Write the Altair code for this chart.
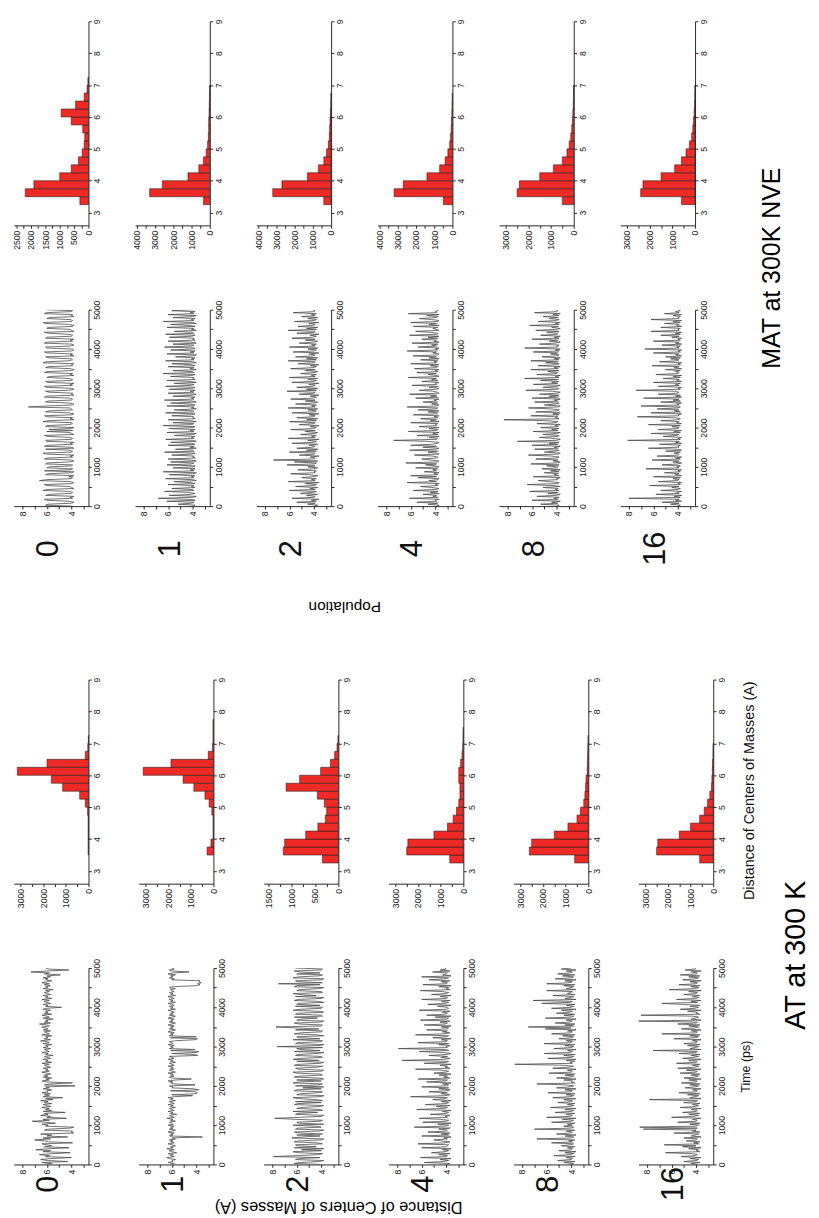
import altair as alt
import pandas as pd

ROWS = ["0", "1", "2", "4", "8", "16"]
TIME = list(range(0, 5001, 25))
BIN_LO = [3.25 + 0.25 * i for i in range(18)]

# ---------------- time series: distance (A) every 25 ps ----------------
AT_TS = {
"0": [6.2,5.6,6.4,4.3,5.9,6.5,5.7,4.0,6.1,5.8,6.6,5.5,4.1,6.3,5.7,6.9,5.9,4.2,6.2,5.6,
      6.0,6.4,3.9,5.8,6.2,7.0,5.7,6.3,4.3,6.0,5.6,6.5,3.8,4.0,3.9,6.2,5.8,4.1,3.8,6.1,
      5.9,6.4,5.3,6.1,7.2,5.8,6.3,4.4,6.0,5.7,6.5,5.9,6.2,4.5,6.3,5.6,6.1,5.8,6.4,5.7,
      6.0,6.3,5.6,6.2,5.9,6.5,5.5,6.1,4.7,6.3,5.8,6.2,5.7,6.4,5.9,6.0,5.6,6.3,5.8,6.1,
      3.7,6.2,5.7,3.9,6.0,6.4,5.8,6.1,5.6,6.3,5.9,6.2,5.7,6.0,6.4,5.8,6.1,5.9,6.3,5.7,
      6.0,6.2,5.8,6.4,5.6,6.1,5.9,6.3,5.7,6.0,6.2,5.5,6.1,5.9,6.4,5.8,6.0,6.2,5.7,6.3,
      5.9,6.1,5.6,6.3,5.8,6.0,6.5,5.7,6.2,5.9,6.1,5.6,6.4,5.8,6.0,6.2,5.7,6.3,5.9,6.1,
      6.4,5.8,6.0,6.6,5.7,6.2,5.9,6.1,5.5,6.3,5.8,6.0,6.4,5.6,6.2,5.9,6.1,5.7,6.3,6.0,
      4.8,6.1,5.9,6.3,5.7,6.0,6.2,5.8,6.4,5.6,6.1,5.9,6.3,5.7,6.0,6.2,5.8,6.1,5.5,6.3,
      5.9,6.1,5.7,6.2,5.8,6.4,6.0,5.6,6.1,5.9,6.3,5.7,6.0,4.9,6.2,5.8,7.3,6.0,4.2,5.9,
      6.1],
"1": [6.1,5.8,6.3,5.9,6.0,5.7,6.2,6.4,5.8,6.1,5.9,6.3,5.6,6.0,6.2,5.8,6.4,5.9,6.1,5.7,
      6.0,6.3,5.8,6.1,5.9,6.2,5.7,6.0,3.5,6.2,5.9,6.1,5.8,6.3,6.0,5.7,6.2,5.9,6.1,5.8,
      6.3,5.9,6.0,6.2,5.7,6.1,5.9,6.4,5.8,6.0,6.2,5.6,6.1,5.9,6.3,5.8,6.0,6.2,5.7,6.1,
      5.9,6.3,5.8,6.0,6.2,5.7,6.1,5.9,6.3,5.8,4.3,6.0,4.0,3.9,4.1,6.1,3.8,4.2,6.0,5.9,
      6.2,4.1,5.8,6.1,5.9,6.3,5.7,4.4,6.0,6.2,5.8,6.1,5.9,6.3,5.7,6.0,6.2,5.8,6.1,5.9,
      6.3,5.8,6.0,6.2,5.7,6.1,5.9,6.3,5.8,6.0,6.2,3.9,4.2,6.0,4.0,3.8,6.1,4.1,6.2,5.9,
      6.1,5.8,6.3,5.9,6.0,6.2,5.7,4.1,3.9,6.1,4.0,6.2,5.9,6.1,5.8,6.3,6.0,5.7,6.2,5.9,
      6.1,5.8,6.3,6.0,5.7,6.2,5.9,6.1,5.8,6.3,6.0,5.7,6.2,5.9,6.1,5.8,6.0,6.3,5.7,6.1,
      5.9,6.2,5.8,6.0,6.3,5.7,6.1,5.9,6.2,5.8,6.0,6.3,5.7,6.1,5.9,6.2,5.8,6.0,6.1,5.7,
      6.2,5.9,4.0,3.7,3.9,3.6,3.8,3.7,6.0,5.8,6.2,5.9,6.1,5.7,6.3,5.9,4.6,6.0,6.2,5.8,
      6.0],
"2": [4.0,6.2,5.7,4.2,3.8,6.1,5.8,4.1,7.9,6.0,4.3,3.9,5.9,6.3,4.0,5.6,3.8,6.2,4.4,5.9,
      6.1,3.9,4.3,6.2,5.8,4.0,3.8,6.4,5.5,4.1,6.0,3.9,5.7,6.2,4.2,3.8,6.1,5.9,4.0,4.4,
      6.3,3.8,5.8,6.0,4.1,3.9,6.2,7.8,5.7,4.0,3.8,6.1,5.9,4.3,6.3,3.9,4.1,6.0,5.6,4.2,
      3.8,6.2,5.9,4.0,6.1,3.9,4.4,5.8,6.3,4.1,3.8,6.0,5.7,4.2,3.9,6.2,6.0,4.0,5.5,3.8,
      6.1,4.3,3.9,6.3,5.8,4.0,6.0,3.8,4.2,6.2,5.7,3.9,4.1,6.0,6.3,4.0,3.8,5.9,6.1,4.4,
      3.9,6.2,5.8,4.1,3.8,6.0,4.2,6.3,5.6,3.9,4.0,6.1,5.9,4.3,3.8,6.2,4.1,5.7,6.0,3.9,
      7.6,4.2,3.8,6.1,5.9,4.0,3.9,6.3,4.1,5.8,6.0,3.8,4.4,6.2,5.7,4.0,3.9,6.1,4.2,6.0,
      7.7,4.0,3.9,5.8,6.2,4.1,3.8,6.0,5.6,4.3,6.2,3.9,4.0,6.1,5.9,3.8,4.2,6.3,5.7,4.0,
      3.9,6.1,4.1,6.0,5.8,3.8,4.2,6.2,5.9,4.0,3.8,6.1,4.4,5.7,6.3,3.9,4.0,6.0,5.8,4.2,
      3.8,6.2,6.0,4.1,7.5,3.9,5.9,6.1,4.0,3.8,6.3,5.8,4.2,3.9,6.0,4.1,5.7,6.2,4.0,3.9,
      6.1],
"4": [4.0,3.7,5.8,4.2,3.8,4.5,3.6,6.1,4.0,3.9,4.6,3.7,5.2,4.1,3.8,4.3,3.6,6.0,4.0,3.9,
      3.8,6.3,4.1,3.7,4.4,5.0,3.9,4.2,3.6,6.0,3.8,4.4,3.7,5.5,4.0,3.9,4.6,3.7,6.6,4.1,
      3.8,4.7,3.6,5.9,4.0,3.8,4.5,6.2,3.9,4.1,3.7,5.3,4.0,3.8,4.3,3.6,6.4,4.2,3.9,4.8,
      3.7,5.7,4.0,3.8,4.4,3.6,5.1,4.1,3.9,6.9,4.1,3.7,4.4,3.9,5.4,4.0,3.7,4.6,3.8,6.0,
      4.0,3.8,4.3,3.6,5.6,4.1,3.9,6.3,3.7,4.2,3.9,4.6,3.6,5.0,4.0,3.8,4.4,6.5,3.7,4.1,
      3.9,4.5,3.6,5.8,4.0,3.8,7.6,4.2,3.7,4.4,3.9,5.4,4.0,3.6,4.3,6.2,3.8,4.1,7.9,3.9,
      4.0,3.7,4.6,3.8,6.3,4.1,3.9,4.4,3.6,5.1,4.0,3.8,6.5,4.2,3.7,4.3,3.9,5.6,4.0,3.8,
      4.4,3.6,5.8,4.1,3.9,4.5,3.7,6.1,4.0,3.8,4.9,3.6,5.6,4.1,3.9,4.3,3.7,6.2,4.0,3.8,
      3.9,4.7,3.6,5.5,4.1,3.8,4.4,3.7,6.0,4.0,3.9,4.5,3.6,5.2,4.1,3.8,4.3,6.1,3.7,4.0,
      3.8,4.6,3.6,5.9,4.0,3.9,4.4,3.7,5.4,4.2,3.8,6.0,3.6,4.3,4.0,3.9,5.1,3.7,4.5,4.0,
      4.1],
"8": [4.2,3.8,4.6,3.7,5.1,4.0,3.9,4.4,3.7,5.4,4.1,3.8,4.5,3.6,5.0,4.0,3.9,4.3,3.7,4.8,
      4.1,3.8,5.6,3.9,4.2,3.7,6.8,4.0,3.8,4.5,3.6,5.2,4.1,3.9,4.4,3.7,7.0,4.0,3.8,4.6,
      3.9,4.3,3.7,5.6,4.0,3.8,4.7,3.6,6.0,4.1,3.9,4.4,3.7,5.3,4.0,3.8,4.5,3.6,5.7,4.2,
      3.8,4.3,3.7,5.1,4.0,3.9,4.6,3.6,5.5,4.1,3.8,4.4,3.7,5.9,4.0,3.9,4.5,3.6,5.2,4.1,
      3.8,4.4,6.8,3.7,4.0,3.9,4.6,3.6,5.2,4.1,3.8,4.5,3.7,5.8,4.0,3.9,4.3,3.6,5.5,4.2,
      3.8,4.7,8.6,3.9,4.1,3.7,4.4,3.6,5.9,4.0,3.8,4.6,3.7,6.2,4.1,3.9,4.3,3.6,5.4,4.0,
      3.8,4.5,3.7,6.2,4.1,3.9,4.4,3.6,5.0,4.0,3.8,4.7,3.7,5.6,4.1,3.9,4.3,3.6,6.1,4.0,
      7.5,3.8,4.5,3.7,5.3,4.1,3.9,4.4,3.6,6.1,4.0,3.8,4.6,3.7,5.2,4.1,3.9,4.8,3.6,5.6,
      4.0,3.8,4.4,3.7,6.4,4.1,3.9,7.1,3.6,4.5,4.0,3.8,5.5,3.7,4.3,4.1,3.9,6.0,3.6,4.4,
      4.0,3.8,4.6,3.7,6.0,4.2,3.9,4.5,3.6,5.3,4.0,3.8,4.7,3.7,5.1,4.1,3.9,4.4,3.6,4.8,
      4.0],
"16": [3.9,4.4,3.7,5.0,4.0,3.8,4.5,3.6,5.2,4.1,3.9,4.3,6.5,3.7,4.0,3.8,4.6,3.6,5.1,4.0,
      6.6,3.8,4.2,3.7,4.8,4.0,3.9,5.0,3.6,4.4,4.1,3.8,5.8,3.7,4.3,4.0,8.3,3.9,8.6,4.1,
      3.8,4.5,3.7,5.5,4.0,3.9,4.3,3.6,6.0,4.2,3.8,4.6,3.7,5.1,4.0,3.9,4.4,3.6,5.3,4.1,
      3.8,4.3,3.7,5.0,4.0,3.9,7.8,3.6,4.5,4.1,3.8,4.7,3.7,5.4,4.0,3.9,4.3,3.6,4.9,4.1,
      3.8,4.5,3.7,5.2,4.0,3.9,4.6,3.6,5.0,4.1,3.8,4.4,3.7,5.3,4.0,3.9,4.8,3.6,5.5,4.1,
      3.8,4.3,3.7,5.6,4.0,3.9,4.6,3.6,5.1,4.2,3.8,4.4,3.7,5.4,4.0,3.9,7.5,3.6,4.5,4.1,
      3.8,4.7,3.7,5.0,4.0,3.9,4.3,3.6,5.8,4.1,3.8,4.5,3.7,6.8,4.0,3.9,4.4,3.6,5.2,4.1,
      3.8,4.6,3.7,5.5,4.0,3.9,8.7,3.6,4.4,4.1,3.8,4.3,8.5,3.7,4.0,3.9,4.7,3.6,5.3,4.1,
      3.8,4.5,3.7,5.1,6.8,3.9,4.4,3.6,5.6,4.1,3.8,4.3,3.7,5.0,4.0,3.9,4.6,3.6,6.2,4.1,
      3.8,4.4,3.7,5.4,4.0,3.9,4.5,3.6,5.1,4.1,3.8,4.6,3.7,5.3,4.0,3.9,4.4,3.6,4.9,4.1,
      4.0],
}

MAT_TS = {
"0": [3.9,6.1,5.9,4.0,3.8,4.2,6.0,6.2,3.9,4.1,3.8,6.1,5.8,4.0,3.9,4.2,6.3,5.9,3.8,4.0,
      4.1,6.0,6.2,3.9,3.8,4.1,6.6,6.0,4.0,3.9,4.2,3.8,6.1,5.9,4.0,3.8,6.2,4.1,3.9,6.0,
      5.8,4.0,3.9,6.1,6.0,4.2,3.8,4.0,6.2,5.9,3.9,4.1,3.8,6.0,6.3,4.0,3.9,4.2,6.1,3.8,
      4.0,6.2,5.8,3.9,4.1,3.8,6.0,6.1,4.0,3.9,4.2,5.9,6.2,3.8,4.0,4.1,6.0,3.9,5.8,4.0,
      3.8,6.1,6.0,4.2,3.9,4.0,6.3,5.9,3.8,4.1,3.9,6.0,6.2,4.0,3.8,4.2,6.1,5.8,3.9,4.0,
      4.1,7.5,6.0,3.9,3.8,4.2,6.1,5.9,4.0,3.9,4.1,6.2,6.0,3.8,4.0,3.9,5.8,6.1,4.2,3.8,
      4.0,6.0,6.2,3.9,4.1,3.8,5.9,6.1,4.0,3.9,4.2,6.0,5.8,3.8,4.1,3.9,6.2,6.0,4.0,3.8,
      4.1,6.1,5.9,3.9,4.0,3.8,6.3,6.0,4.2,3.9,4.0,5.8,6.1,3.8,4.1,3.9,6.0,6.2,4.0,3.8,
      3.9,6.0,6.1,4.1,3.8,4.0,6.2,5.9,3.9,4.1,3.8,6.1,6.0,4.0,3.9,4.2,5.8,6.2,3.8,4.0,
      4.1,6.0,5.9,3.9,3.8,4.2,6.1,6.3,4.0,3.9,4.1,6.0,5.8,3.8,4.0,3.9,6.2,6.0,4.1,3.9,
      6.0],
"1": [4.0,3.8,5.2,4.1,3.9,6.1,3.8,4.3,6.8,4.0,3.7,5.9,4.2,3.8,4.4,6.3,3.9,4.0,5.7,3.8,
      4.1,3.9,6.0,3.8,4.2,5.5,3.7,4.0,6.2,3.9,4.1,3.8,5.9,4.0,3.7,6.4,3.9,4.2,3.8,5.6,
      4.0,3.8,6.1,4.1,3.9,5.8,3.7,4.2,6.0,3.8,4.0,3.9,5.7,4.1,3.8,6.3,3.9,4.0,5.4,3.7,
      4.2,3.9,6.0,3.8,4.1,5.8,3.7,4.0,6.2,3.9,4.1,3.8,5.5,4.0,3.7,6.1,3.9,4.2,3.8,5.9,
      4.0,3.8,6.4,4.1,3.9,5.6,3.7,4.2,6.0,3.8,4.0,3.9,5.7,4.1,3.8,6.2,3.9,4.0,5.5,3.7,
      4.1,3.9,6.1,3.8,4.2,5.8,3.7,4.0,6.3,3.9,4.1,3.8,5.6,4.0,3.7,6.0,3.9,4.2,3.8,5.9,
      4.0,3.8,6.2,4.1,3.9,5.5,3.7,4.2,6.1,3.8,4.0,3.9,5.8,4.1,3.8,6.4,3.9,4.0,5.6,3.7,
      4.2,3.9,6.0,3.8,4.1,5.7,3.7,4.0,6.2,3.9,4.1,3.8,5.4,4.0,3.7,6.1,3.9,4.2,3.8,5.8,
      4.0,3.8,6.3,4.1,3.9,5.6,3.7,4.2,6.0,3.8,4.0,3.9,5.9,4.1,3.8,6.2,3.9,4.0,5.5,3.7,
      4.1,3.9,6.1,3.8,4.2,5.8,3.7,4.0,6.4,3.9,4.1,3.8,5.6,4.0,3.7,6.0,3.9,4.2,3.8,5.7,
      4.0],
"2": [4.0,3.7,4.5,3.9,5.4,3.8,4.2,3.6,5.8,4.0,3.9,4.6,3.7,5.1,4.1,3.8,6.0,3.9,4.3,3.7,
      5.5,4.0,3.8,4.7,3.6,6.1,3.9,4.2,3.8,5.0,4.1,3.7,4.4,5.9,3.9,4.0,3.8,5.3,4.1,3.7,
      4.5,3.9,6.2,4.0,3.8,5.6,3.7,7.3,4.1,3.9,4.3,3.6,5.2,4.0,3.9,6.0,3.8,4.6,3.7,5.4,
      4.1,3.9,4.4,3.7,5.8,4.0,3.8,4.5,3.6,6.1,3.9,4.2,3.8,5.1,4.0,3.7,4.7,3.9,5.9,4.1,
      3.8,4.3,3.6,5.2,4.0,3.9,6.0,3.8,4.6,3.7,5.4,4.1,3.9,4.4,3.6,5.8,4.0,3.8,4.5,3.7,
      6.1,3.9,4.2,3.8,5.5,4.0,3.7,4.7,3.9,5.9,4.1,3.8,4.3,3.6,5.2,4.0,3.9,6.2,3.8,4.6,
      3.7,5.4,4.1,3.9,4.4,3.6,5.8,4.0,3.8,4.5,3.7,6.0,3.9,4.2,3.8,5.1,4.0,3.7,4.7,3.9,
      5.9,4.1,3.8,4.3,3.6,5.3,4.0,3.9,6.1,3.8,4.6,3.7,5.5,4.1,3.9,4.4,3.6,5.7,4.0,3.8,
      4.5,3.7,6.0,3.9,4.2,3.8,5.2,4.0,3.7,4.7,3.9,5.8,4.1,3.8,4.3,3.6,5.4,4.0,3.9,6.1,
      3.8,4.6,3.7,5.3,4.1,3.9,4.4,3.6,5.6,4.0,3.8,4.5,3.7,5.0,3.9,4.2,3.8,5.7,4.0,3.9,
      4.1],
"4": [3.9,3.7,4.6,3.8,5.5,3.9,4.0,3.7,6.1,3.8,4.2,3.9,5.0,3.7,4.4,3.8,5.8,3.9,3.7,4.3,
      5.2,3.8,4.0,3.7,6.3,3.9,4.5,3.8,3.7,5.4,3.9,6.0,3.8,4.1,3.7,4.9,3.9,4.2,3.8,5.6,
      3.7,4.0,4.8,3.9,6.4,3.8,3.7,4.4,5.1,3.9,3.8,4.2,5.7,3.7,3.9,4.6,3.8,6.1,4.0,3.7,
      5.0,3.9,6.0,4.3,3.8,3.7,4.7,7.4,3.9,3.8,4.5,3.7,5.5,3.8,4.2,3.7,6.2,3.9,3.8,4.5,
      3.7,5.3,3.9,4.0,3.8,6.0,3.7,4.4,3.9,5.2,3.8,4.1,3.7,5.8,3.9,3.8,4.6,3.7,5.4,4.0,
      3.8,6.3,3.9,3.7,4.3,3.8,5.0,3.9,4.1,3.7,5.6,3.8,4.4,3.9,6.1,3.7,3.8,4.2,5.3,3.9,
      3.7,4.5,3.8,5.9,3.9,4.0,3.7,5.1,3.8,4.3,3.9,6.2,3.7,3.8,4.6,3.9,5.5,3.8,4.0,3.7,
      5.7,3.9,3.8,4.4,3.7,6.0,3.9,4.1,3.8,5.2,3.7,4.5,3.9,5.8,3.8,3.7,4.2,3.9,6.3,3.8,
      4.0,3.7,5.4,3.9,4.3,3.8,5.9,3.7,4.1,3.9,5.1,3.8,4.6,3.7,6.1,3.9,3.8,4.4,5.6,3.7,
      3.9,4.2,3.8,5.8,3.7,4.5,3.9,6.0,3.8,3.7,4.3,5.3,3.9,3.8,4.7,3.7,6.2,3.9,4.0,3.8,
      3.9],
"8": [4.0,3.8,5.3,3.9,4.4,3.7,6.0,3.9,4.2,3.8,5.6,4.0,3.7,4.7,3.9,6.2,3.8,4.1,3.9,5.1,
      3.7,4.3,6.4,3.9,3.8,4.6,5.5,3.9,4.0,3.7,5.9,3.8,4.2,3.9,5.0,3.8,4.5,3.7,5.2,4.0,
      3.9,4.8,3.8,6.1,4.0,3.7,4.3,3.9,5.7,4.0,3.8,4.4,6.3,3.9,3.7,5.0,4.1,3.8,5.8,3.9,
      4.2,3.7,6.0,3.9,4.6,3.8,7.2,4.0,3.7,4.3,5.4,3.9,3.8,5.1,4.0,3.7,5.9,3.9,4.4,3.8,
      5.3,3.9,4.1,3.7,5.6,4.0,3.9,4.7,8.3,3.8,4.1,3.9,6.1,3.8,4.3,3.7,5.7,4.0,3.8,4.4,
      6.3,3.9,3.7,5.0,4.1,3.8,5.8,3.9,4.2,3.7,6.0,3.9,4.6,3.8,5.4,4.0,3.7,4.3,6.5,3.9,
      3.8,5.1,4.0,3.7,5.9,3.9,4.4,3.8,5.3,3.9,6.6,3.8,4.1,3.7,5.6,4.0,3.9,4.7,3.8,6.1,
      3.9,4.2,3.7,5.5,4.0,3.8,4.9,3.9,6.1,3.8,4.2,3.7,5.2,4.0,3.8,4.5,3.9,5.9,3.8,4.1,
      3.7,6.6,3.9,4.0,3.8,5.4,4.1,3.7,4.6,3.9,6.0,3.8,4.2,3.7,5.3,4.0,3.9,4.8,3.8,5.7,
      4.0,3.7,4.4,3.9,6.2,3.8,4.1,3.7,5.5,4.0,3.8,4.6,3.9,5.1,3.8,4.3,3.7,5.8,4.0,3.9,
      4.1],
"16": [4.0,3.8,4.6,3.9,5.3,3.7,4.2,3.9,8.0,3.8,4.3,3.7,5.8,3.9,4.1,3.7,5.4,4.0,3.8,4.5,
      3.9,6.3,3.8,4.0,3.7,5.6,4.1,3.9,4.4,3.8,6.0,3.7,4.2,3.9,5.1,3.8,4.0,3.7,6.6,3.9,
      4.1,3.8,5.3,4.0,3.7,4.4,3.9,6.1,3.8,4.2,3.7,5.7,4.0,3.9,4.3,3.8,5.0,3.7,4.1,6.4,
      3.9,4.0,3.8,5.5,3.7,4.2,3.9,8.1,3.8,4.0,3.7,5.2,4.1,3.9,6.2,3.8,4.3,3.7,5.6,4.0,
      3.9,4.5,3.8,6.4,3.7,4.1,3.9,5.4,4.0,3.8,4.2,7.3,3.9,4.0,3.7,6.2,3.8,4.3,3.9,5.7,
      4.0,3.8,7.0,3.9,4.1,3.7,5.4,3.8,4.4,3.9,6.8,3.7,4.2,3.8,5.6,4.0,3.9,4.3,7.4,3.8,
      4.0,3.7,5.6,3.9,4.2,3.8,6.0,3.7,4.1,3.9,5.2,3.8,4.4,3.7,5.8,4.0,3.9,4.2,3.8,5.0,
      3.7,4.3,3.9,6.1,3.8,4.0,3.7,5.5,4.1,3.9,4.6,3.8,5.0,3.7,4.2,3.9,6.0,3.8,4.0,3.7,
      6.7,3.9,4.1,3.8,5.3,3.7,4.2,3.9,6.0,3.8,4.0,3.7,4.5,3.9,5.4,3.8,4.2,3.7,6.2,3.9,
      4.0,3.8,5.4,3.7,4.1,3.9,5.1,3.8,4.4,3.7,6.2,3.9,4.0,3.8,4.4,3.7,5.1,3.9,4.2,3.8,
      4.0],
}

# ---------------- histograms: population per 0.25 A bin (3.25 .. 7.75) ----------------
AT_HIST = {
"0":  [0, 15, 15, 15, 15, 15, 40, 140, 390, 1140, 1640, 3140, 1830, 140, 30, 5, 0, 0],
"1":  [0, 280, 110, 15, 15, 15, 70, 190, 375, 865, 1340, 3100, 1875, 230, 40, 20, 20, 20],
"2":  [340, 1180, 1150, 700, 440, 280, 250, 300, 450, 1120, 830, 380, 170, 80, 30, 10, 0, 0],
"4":  [600, 2500, 2450, 1300, 700, 450, 300, 200, 150, 150, 200, 200, 120, 60, 30, 15, 10, 0],
"8":  [600, 2600, 2500, 1500, 900, 500, 350, 200, 150, 120, 100, 50, 40, 30, 20, 10, 0, 0],
"16": [600, 2500, 2450, 1500, 1000, 600, 400, 250, 150, 80, 60, 40, 30, 10, 5, 0, 0, 0],
}
MAT_HIST = {
"0":  [300, 2200, 1900, 1000, 600, 350, 220, 150, 130, 200, 600, 950, 450, 150, 50, 20, 0, 0],
"1":  [350, 3300, 2600, 1200, 600, 350, 200, 120, 80, 60, 60, 40, 30, 20, 10, 0, 0, 0],
"2":  [400, 3200, 2700, 1300, 700, 400, 250, 150, 100, 80, 60, 40, 20, 10, 0, 0, 0, 0],
"4":  [500, 3200, 2700, 1400, 700, 400, 250, 150, 100, 70, 50, 30, 20, 10, 0, 0, 0, 0],
"8":  [500, 2500, 2400, 1500, 900, 500, 300, 200, 130, 90, 60, 40, 20, 10, 5, 0, 0, 0],
"16": [600, 2400, 2300, 1500, 900, 600, 400, 250, 150, 100, 70, 40, 20, 10, 5, 0, 0, 0],
}

# tick positions (labelled ticks and the unlabelled minor ticks between them)
AT_POP_TICKS = {"0": [0, 500, 1000, 1500, 2000, 2500, 3000], "1": [0, 500, 1000, 1500, 2000, 2500, 3000],
                "2": [0, 250, 500, 750, 1000, 1250, 1500],
                "4": [0, 500, 1000, 1500, 2000, 2500, 3000], "8": [0, 500, 1000, 1500, 2000, 2500, 3000],
                "16": [0, 500, 1000, 1500, 2000, 2500, 3000]}
AT_POP_STEP = {"0": 1000, "1": 1000, "2": 500, "4": 1000, "8": 1000, "16": 1000}
AT_POP_MAX = {"0": 3300, "1": 3300, "2": 1600, "4": 3300, "8": 3300, "16": 3300}
MAT_POP_TICKS = {"0": [0, 250, 500, 750, 1000, 1250, 1500, 1750, 2000, 2250, 2500],
                 "1": [0, 500, 1000, 1500, 2000, 2500, 3000, 3500, 4000],
                 "2": [0, 500, 1000, 1500, 2000, 2500, 3000, 3500, 4000],
                 "4": [0, 500, 1000, 1500, 2000, 2500, 3000, 3500, 4000],
                 "8": [0, 500, 1000, 1500, 2000, 2500, 3000], "16": [0, 500, 1000, 1500, 2000, 2500, 3000]}
MAT_POP_STEP = {"0": 500, "1": 1000, "2": 1000, "4": 1000, "8": 1000, "16": 1000}
MAT_POP_MAX = {"0": 2600, "1": 4100, "2": 4100, "4": 4100, "8": 3300, "16": 3300}

TIME_TICKS = [0, 500, 1000, 1500, 2000, 2500, 3000, 3500, 4000, 4500, 5000]
DIST_TICKS_TS = [3, 4, 5, 6, 7, 8]
DIST_TICKS_H = [3, 3.5, 4, 4.5, 5, 5.5, 6, 6.5, 7, 7.5, 8, 8.5, 9]

FONT = "Liberation Sans"
W = 78
H_TS = 205
H_H = 213
HSP_MAT = 48.6
HSP_AT = 52.4
RED = "#ee2a26"

def axis_common():
    return dict(domainColor="#222", tickColor="#222", labelColor="#222", labelFont=FONT,
                labelFontSize=9, tickSize=3, labelPadding=2, grid=False, labelAngle=-90,
                format="d", titleFont=FONT, titleColor="#111", titleFontWeight="normal")

def ts_panel(vals, label, label_y, right_title=None):
    df = pd.DataFrame({"t": TIME, "d": vals})
    xa = axis_common()
    xa.update(values=DIST_TICKS_TS, orient="bottom", labelAlign="right", labelBaseline="middle",
              labelExpr="datum.value % 2 == 0 ? datum.label : ''",
              title=label, titleFontSize=32, titleAngle=-90, titleX=W / 2 - 3, titleY=label_y,
              titleAlign="center", titleBaseline="middle")
    ya = axis_common()
    ya.update(values=TIME_TICKS, orient="right", labelAlign="center", labelBaseline="top",
              labelExpr="datum.value % 1000 == 0 ? datum.label : ''")
    if right_title:
        ya.update(title=right_title, titleFontSize=13, titleAngle=-90, titleAlign="center",
                  titleBaseline="top", titlePadding=14)
    else:
        ya.update(title=None)
    return alt.Chart(df).mark_line(color="#484848", strokeWidth=0.8, clip=True).encode(
        x=alt.X("d:Q", scale=alt.Scale(domain=[2.6, 8.7], reverse=True, nice=False, zero=False),
                axis=alt.Axis(**xa)),
        y=alt.Y("t:Q", scale=alt.Scale(domain=[0, 5000], nice=False), axis=alt.Axis(**ya)),
        order="t:Q",
    ).properties(width=W, height=H_TS)

def hist_panel(counts, pmax, pticks, pstep, right_title=None):
    lo = [b for b, c in zip(BIN_LO, counts) if c > 0]
    cc = [c for c in counts if c > 0]
    df = pd.DataFrame({"lo": lo, "hi": [b + 0.25 for b in lo], "c": cc, "z": [0] * len(cc)})
    xa = axis_common()
    xa.update(values=pticks, orient="bottom", labelAlign="right", labelBaseline="middle", title=None,
              labelExpr="datum.value %% %d == 0 ? datum.label : ''" % pstep)
    ya = axis_common()
    ya.update(values=DIST_TICKS_H, orient="right", labelAlign="center", labelBaseline="top",
              labelExpr="datum.value % 1 == 0 ? datum.label : ''")
    if right_title:
        ya.update(title=right_title, titleFontSize=15, titleAngle=-90, titleAlign="center",
                  titleBaseline="top", titlePadding=16, titleY=H_H / 2 + 9)
    else:
        ya.update(title=None)
    return alt.Chart(df).mark_rect(fill=RED, stroke="#222", strokeWidth=0.6).encode(
        x=alt.X("z:Q", scale=alt.Scale(domain=[0, pmax], reverse=True, nice=False), axis=alt.Axis(**xa)),
        x2="c:Q",
        y=alt.Y("lo:Q", scale=alt.Scale(domain=[2.6, 9], nice=False, zero=False), axis=alt.Axis(**ya)),
        y2="hi:Q",
    ).properties(width=W, height=H_H)

bandA = alt.hconcat(*[hist_panel(MAT_HIST[r], MAT_POP_MAX[r], MAT_POP_TICKS[r], MAT_POP_STEP[r]) for r in ROWS],
                    spacing=HSP_MAT, bounds="flush")
bandB = alt.hconcat(*[ts_panel(MAT_TS[r], r, 44) for r in ROWS], spacing=HSP_MAT, bounds="flush")
bandC = alt.hconcat(*[hist_panel(AT_HIST[r], AT_POP_MAX[r], AT_POP_TICKS[r], AT_POP_STEP[r],
                                 "Distance of Centers of Masses (A)" if r == "16" else None) for r in ROWS],
                    spacing=HSP_AT, bounds="flush",
                    title=alt.TitleParams("Population", orient="top", anchor="middle", angle=180,
                                          align="center", baseline="middle", fontSize=16,
                                          font=FONT, fontWeight="normal", dx=42, offset=57))
bandD = alt.hconcat(*[ts_panel(AT_TS[r], r, 20, "Time (ps)" if r == "16" else None) for r in ROWS],
                    spacing=HSP_AT, bounds="flush",
                    title=alt.TitleParams("Distance of Centers of Masses (A)", orient="bottom",
                                          anchor="start", angle=180, align="center", baseline="middle",
                                          fontSize=17, font=FONT, fontWeight="normal", dx=-339, offset=6))

mat = alt.vconcat(bandA, bandB, spacing=301, bounds="flush",
                  title=alt.TitleParams("MAT at 300K NVE", orient="right", anchor="middle", angle=-90,
                                        align="center", baseline="top", fontSize=26, font=FONT,
                                        fontWeight="normal", offset=28, dx=25))
at = alt.vconcat(bandC, bandD, spacing=301, bounds="flush",
                 title=alt.TitleParams("AT at 300 K", orient="right", anchor="middle", angle=-90,
                                       align="center", baseline="top", fontSize=30, font=FONT,
                                       fontWeight="normal", offset=5, dx=-50, dy=-8))

chart = alt.vconcat(mat, at, spacing=687, bounds="flush").properties(
    padding={"left": 4, "top": -16, "right": 0, "bottom": 0}
).configure_view(stroke=None)

chart.save("out.html", embed_options={"renderer": "svg", "actions": False})
